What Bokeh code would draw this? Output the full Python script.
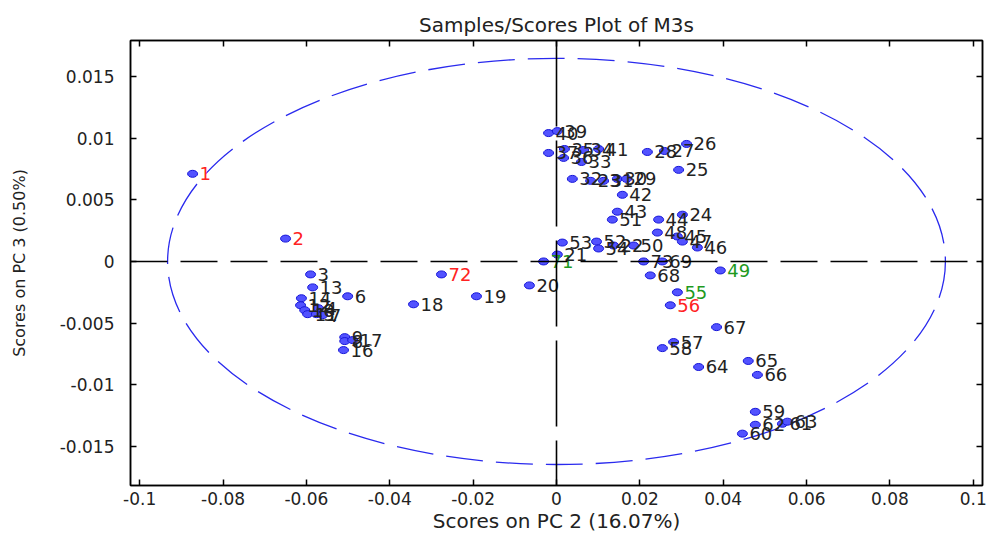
from bokeh.plotting import figure
from bokeh.models import Range1d, FixedTicker, LinearAxis, Span, ColumnDataSource
from bokeh.core.properties import value
from bokeh.embed import file_html
from bokeh.resources import INLINE

# Sample scores on PC 2 (x) and PC 3 (y)
sample_ids = [
    "1", "2", "3", "13", "6", "14", "12", "10", "11", "5", "7", "4",
    "9", "8", "17", "16", "18", "19", "20", "72", "71", "21",
    "53", "52", "54", "22", "50", "73", "69", "68", "49", "55", "56",
    "67", "57", "58", "64", "65", "66", "59", "62", "61", "63", "60",
    "48", "45", "47", "46", "44", "24", "43", "51", "42",
    "32", "23", "31", "30", "29", "25", "28", "27", "26",
    "40", "39", "37", "35", "34", "41", "36", "33",
]
pc2_scores = [
    -0.0873, -0.0650, -0.0590, -0.0585, -0.0501, -0.0612, -0.0614, -0.0604, -0.0597, -0.0576, -0.0561, -0.0571,
    -0.0508, -0.0508, -0.0489, -0.0511, -0.0343, -0.0192, -0.0065, -0.0276, -0.0031, 0.0002,
    0.0014, 0.0096, 0.0101, 0.0137, 0.0185, 0.0209, 0.0254, 0.0225, 0.0393, 0.0290, 0.0273,
    0.0384, 0.0281, 0.0254, 0.0341, 0.0460, 0.0482, 0.0477, 0.0477, 0.0542, 0.0554, 0.0446,
    0.0242, 0.0290, 0.0302, 0.0338, 0.0245, 0.0302, 0.0146, 0.0134, 0.0158,
    0.0038, 0.0082, 0.0113, 0.0146, 0.0168, 0.0293, 0.0218, 0.0259, 0.0312,
    -0.0019, 0.0002, -0.0019, 0.0019, 0.0065, 0.0101, 0.0017, 0.0060,
]
pc3_scores = [
    0.00710, 0.00185, -0.00105, -0.00210, -0.00282, -0.00298, -0.00355, -0.00395, -0.00427, -0.00427, -0.00435, -0.00379,
    -0.00613, -0.00645, -0.00637, -0.00718, -0.00347, -0.00282, -0.00194, -0.00105, 0.00000, 0.00056,
    0.00153, 0.00161, 0.00105, 0.00129, 0.00129, 0.00000, 0.00000, -0.00113, -0.00073, -0.00250, -0.00355,
    -0.00532, -0.00653, -0.00702, -0.00855, -0.00806, -0.00919, -0.01218, -0.01323, -0.01315, -0.01298, -0.01395,
    0.00234, 0.00202, 0.00161, 0.00113, 0.00339, 0.00379, 0.00403, 0.00339, 0.00540,
    0.00669, 0.00653, 0.00653, 0.00669, 0.00669, 0.00742, 0.00887, 0.00895, 0.00952,
    0.01040, 0.01056, 0.00879, 0.00911, 0.00903, 0.00911, 0.00839, 0.00806,
]
# Highlighted samples
red_ids = ["1", "2", "72", "56"]
green_ids = ["71", "55", "49"]

# 95% confidence ellipse (centre and full axis lengths, score units)
ellipse_center = [0.0, 0.0]
ellipse_size = [0.1866, 0.0329]

x_ticks = [-0.1, -0.08, -0.06, -0.04, -0.02, 0.0, 0.02, 0.04, 0.06, 0.08, 0.1]
x_tick_labels = ["-0.1", "-0.08", "-0.06", "-0.04", "-0.02", "0", "0.02", "0.04", "0.06", "0.08", "0.1"]
y_ticks = [-0.015, -0.01, -0.005, 0.0, 0.005, 0.01, 0.015]
y_tick_labels = ["-0.015", "-0.01", "-0.005", "0", "0.005", "0.01", "0.015"]

FONT = "DejaVu Sans"
INK = "#222222"

label_colors = []
for sid in sample_ids:
    if sid in red_ids:
        label_colors.append("#ff2222")
    elif sid in green_ids:
        label_colors.append("#1e9a1e")
    else:
        label_colors.append(INK)

src = ColumnDataSource(dict(x=pc2_scores, y=pc3_scores, label=sample_ids, color=label_colors))

p = figure(
    width=993, height=535,
    x_range=Range1d(-0.1022, 0.1022), y_range=Range1d(-0.01815, 0.0179),
    output_backend="svg", toolbar_location=None,
    min_border_left=130, min_border_right=11, min_border_top=40, min_border_bottom=48,
    x_axis_location=None, y_axis_location=None,
    background_fill_color="white", border_fill_color="white",
)
p.grid.visible = False
p.outline_line_color = "black"
p.outline_line_width = 1.5

p.title.text = "Samples/Scores Plot of M3s"
p.title.align = "center"
p.title.text_font = FONT
p.title.text_font_style = "normal"
p.title.text_font_size = "20px"
p.title.text_color = INK
p.title.standoff = 8


def style_axis(ax, ticks, labels, show_labels):
    ax.ticker = FixedTicker(ticks=ticks)
    ax.minor_tick_line_color = None
    ax.major_tick_in = 6
    ax.major_tick_out = 0
    ax.major_tick_line_color = "black"
    ax.major_tick_line_width = 1.5
    ax.axis_line_color = "black"
    ax.axis_line_width = 1.5
    ax.major_label_text_font = FONT
    ax.axis_label_text_font = FONT
    ax.axis_label_text_font_style = "normal"
    ax.axis_label_text_color = INK
    if show_labels:
        ax.major_label_overrides = dict(zip(ticks, labels))
        ax.major_label_text_color = INK
        ax.major_label_text_font_size = "17px"
    else:
        # tick marks only on the opposite sides of the frame
        ax.major_label_overrides = {t: "" for t in ticks}
        ax.major_label_text_color = None
        ax.major_label_standoff = 0


xb = LinearAxis(axis_label="Scores on PC 2 (16.07%)")
style_axis(xb, x_ticks, x_tick_labels, True)
xb.major_label_standoff = 6
xb.axis_label_text_font_size = "20px"
xb.axis_label_standoff = 1
p.add_layout(xb, "below")

yl = LinearAxis(axis_label="Scores on PC 3 (0.50%)")
style_axis(yl, y_ticks, y_tick_labels, True)
yl.major_label_standoff = 16
yl.axis_label_text_font_size = "16px"
yl.axis_label_standoff = 28
p.add_layout(yl, "left")

xt = LinearAxis()
style_axis(xt, x_ticks, x_tick_labels, False)
p.add_layout(xt, "above")

yr = LinearAxis()
style_axis(yr, y_ticks, y_tick_labels, False)
p.add_layout(yr, "right")

# confidence ellipse
p.ellipse(x=[ellipse_center[0]], y=[ellipse_center[1]],
          width=[ellipse_size[0]], height=[ellipse_size[1]],
          fill_color=None, line_color="#2a2aee", line_width=1.3, line_dash="37 13")

# zero crosshair
p.add_layout(Span(location=ellipse_center[0], dimension="height", line_color="black",
                  line_width=1.6, line_dash="86 14"))
p.add_layout(Span(location=ellipse_center[1], dimension="width", line_color="black",
                  line_width=1.6, line_dash="37 13"))

# sample markers and labels
p.ellipse(x="x", y="y", width=10, height=7, width_units="screen", height_units="screen",
          source=src, fill_color="#5252ff", line_color="#1616d8", line_width=1)
p.text(x="x", y="y", text="label", source=src, x_offset=7,
       text_baseline="middle", text_align="left",
       text_font=value(FONT), text_font_size="18px", text_color="color")

open("out.html", "w").write(file_html(p, INLINE))
